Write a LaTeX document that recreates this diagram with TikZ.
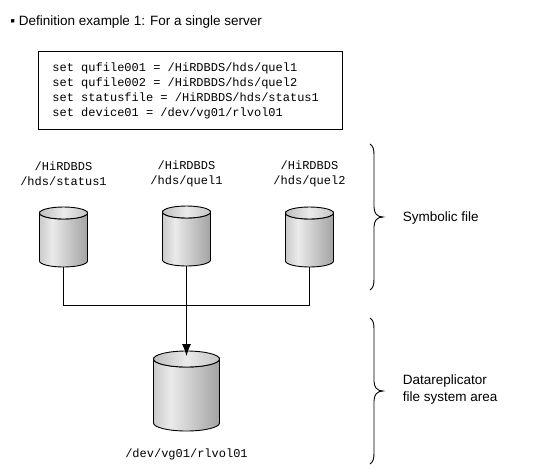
\documentclass[tikz,border=0pt]{standalone}
\usepackage{fontspec}
\setmainfont{Liberation Sans}
\setmonofont{Liberation Mono}
\usetikzlibrary{arrows.meta}

\pgfdeclarehorizontalshading{diskbody}{100bp}{color(0bp)=(black!45); color(38bp)=(black!8); color(100bp)=(black!55)}
\pgfdeclarehorizontalshading{disktop}{100bp}{color(0bp)=(black!42); color(50bp)=(black!8); color(100bp)=(black!38)}

\tikzset{
    pics/disk/.style n args={3}{code={
        \path[draw=black, shading=diskbody]
            (-#1,0) -- (-#1,#3) arc[start angle=180, end angle=0, x radius=#1, y radius=#2]
            -- (#1,0) arc[start angle=0, end angle=180, x radius=#1, y radius=#2] -- cycle;
        \path[draw=black, shading=disktop] (0,0) ellipse[x radius=#1, y radius=#2];
        \coordinate (-bot) at (0,#3+#2);
        \coordinate (-in) at (0,-3);
    }},
    pics/filebrace/.style={code={
        \draw (-13,-73) .. controls (-10,-71) and (-9,-68) .. (-9,-62) -- (-9,-10)
            .. controls (-9,-4) and (-6,0) .. (0,0)
            .. controls (-6,0) and (-9,4) .. (-9,10) -- (-9,62)
            .. controls (-9,68) and (-10,71) .. (-13,73);
    }},
    mono/.style={font=\fontsize{12}{15}\selectfont\ttfamily, inner sep=0pt, align=center},
    sans/.style={font=\fontsize{13.5}{17.5}\selectfont, inner sep=0pt, align=left}
}

\begin{document}
\begin{tikzpicture}[x=1pt, y=-1pt, line width=0.9pt]
    \useasboundingbox (0,0) rectangle (544,475);

    \node[sans, anchor=west] (title) at (10,22) {▪ Definition example 1: For a single server};

    \node[draw, mono, align=left, anchor=north west, minimum width=304pt, minimum height=78pt,
        text width=275pt, inner xsep=14.5pt] (defbox) at (37.5,51) {\spaceskip=7.2pt\relax
        set qufile001 = /HiRDBDS/hds/quel1\\
        set qufile002 = /HiRDBDS/hds/quel2\\
        set statusfile = /HiRDBDS/hds/status1\\
        set device01 = /dev/vg01/rlvol01};

    \node[mono] (statuslabel) at (63.5,174) {/HiRDBDS\\/hds/status1};
    \node[mono] (quel1label) at (186.5,174) {/HiRDBDS\\/hds/quel1};
    \node[mono] (quel2label) at (309.5,174) {/HiRDBDS\\/hds/quel2};

    \pic (status) at (63.5,213) {disk={24}{6}{48}};
    \pic (quel1) at (186.5,212) {disk={24}{6}{48}};
    \pic (quel2) at (309.5,213) {disk={24}{6}{48}};
    \pic (dev) at (186.5,359) {disk={33}{8}{64}};

    \coordinate (bus) at (186.5,305);
    \draw (status-bot) |- (bus);
    \draw (quel2-bot) |- (bus);
    \draw[-{Latex[length=12pt, width=9pt]}] (quel1-bot) -- (dev-in);

    \node[mono] (devlabel) at (186.5,454) {/dev/vg01/rlvol01};

    \pic at (383,217) {filebrace};
    \pic at (383,391) {filebrace};

    \node[sans, anchor=west] (symbolic) at (402.5,218) {Symbolic file};
    \node[sans, anchor=west] (area) at (402.5,389.5) {Datareplicator\\file system area};
\end{tikzpicture}
\end{document}
